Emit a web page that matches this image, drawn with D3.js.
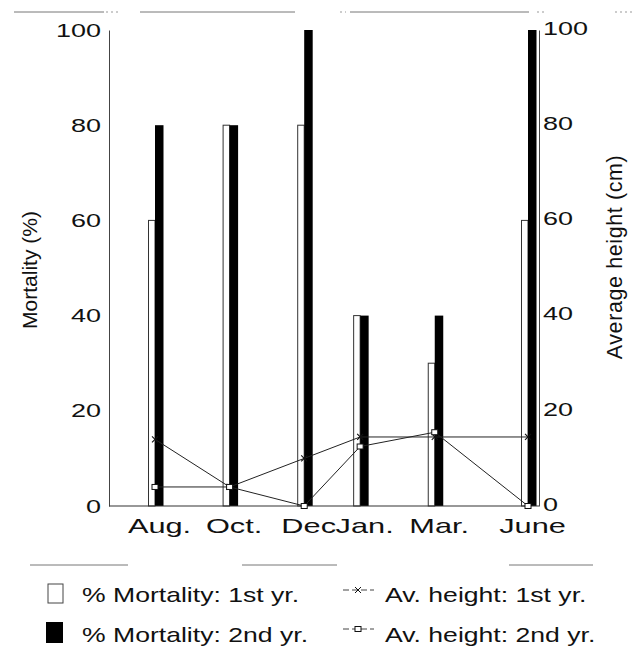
<!DOCTYPE html>
<html><head><meta charset="utf-8">
<script src="https://cdn.jsdelivr.net/npm/d3@7"></script>
<style>
body{margin:0;background:#fff}
svg{display:block}
text{font-family:"Liberation Sans",Arial,Helvetica,sans-serif;fill:#111}
</style>
</head><body>
<svg id="chart" width="638" height="655"></svg>
<script>
// ---- data ----
const months = ["Aug.", "Oct.", "Dec", "Jan.", "Mar.", "June"];
const monthPos = [0, 2, 4, 5.5, 7.5, 10];          // sampling time (months after Aug.)
const mortality1st = [60, 80, 80, 40, 30, 60];     // % mortality, 1st yr
const mortality2nd = [80, 80, 100, 40, 40, 100];   // % mortality, 2nd yr
const height1st = [14, 4, 10, 14.5, 14.5, 14.5];   // average height (cm), 1st yr
const height2nd = [4, 4, 0, 12.5, 15.5, 0];        // average height (cm), 2nd yr
const yTicks = [0, 20, 40, 60, 80, 100];
const legendLabels = ["% Mortality: 1st yr.", "% Mortality: 2nd yr.", "Av. height: 1st yr.", "Av. height: 2nd yr."];
const axisTitles = ["Mortality (%)", "Average height (cm)"];

(function () {
// ---- layout ----
const svg = d3.select("#chart");
const plotLeft = 109, plotRight = 539, plotBase = 506, plotTop = 30;
const x = d3.scaleLinear().domain([0, 10]).range([155, 528]);
const yL = d3.scaleLinear().domain([0, 100]).range([plotBase, plotTop]);
const yR = d3.scaleLinear().domain([0, 100]).range([plotBase, plotTop]);
const wideK = 1.42;

// scan artefact rules (page edges of the scanned figure)
const rules = [[12, 14, 104], [12, 140, 295], [12, 350, 529],
               [565, 30, 128], [565, 242, 337], [565, 509, 593]];
svg.append("g").selectAll("line").data(rules).join("line")
  .attr("x1", d => d[1]).attr("x2", d => d[2]).attr("y1", d => d[0]).attr("y2", d => d[0])
  .attr("stroke", "#777").attr("stroke-width", 1);
const dots = [[12, 106, 118], [12, 340, 346], [12, 537, 545], [12, 615, 635]];
svg.append("g").selectAll("line").data(dots).join("line")
  .attr("x1", d => d[1]).attr("x2", d => d[2]).attr("y1", d => d[0]).attr("y2", d => d[0])
  .attr("stroke", "#999").attr("stroke-width", 1).attr("stroke-dasharray", "2,3");

// bars
const idx = d3.range(months.length);
svg.append("g").selectAll("rect").data(idx).join("rect")
  .attr("x", i => x(monthPos[i]) - 6.5).attr("width", 6.5)
  .attr("y", i => yL(mortality1st[i])).attr("height", i => plotBase - yL(mortality1st[i]))
  .attr("fill", "#fff").attr("stroke", "#333").attr("stroke-width", 1);
svg.append("g").selectAll("rect").data(idx).join("rect")
  .attr("x", i => x(monthPos[i])).attr("width", 8.5)
  .attr("y", i => yL(mortality2nd[i])).attr("height", i => plotBase - yL(mortality2nd[i]))
  .attr("fill", "#000");

// axes
const gL = svg.append("g").attr("transform", `translate(${plotLeft},0)`)
  .call(d3.axisLeft(yL).tickValues(yTicks).tickSize(0).tickSizeOuter(0).tickPadding(0));
gL.selectAll(".tick text").attr("x", 0)
  .attr("transform", `translate(-8,0) scale(${wideK},1)`)
  .attr("font-size", 19).attr("font-family", null).attr("fill", "#111");
gL.select(".domain").attr("stroke", "#444");

const gR = svg.append("g").attr("transform", `translate(${plotRight},0)`)
  .call(d3.axisRight(yR).tickValues(yTicks).tickSize(0).tickSizeOuter(0).tickPadding(0));
gR.selectAll(".tick text").attr("x", 0).attr("dy", "0.28em")
  .attr("transform", `translate(4,-1) scale(${wideK},1)`)
  .attr("font-size", 19).attr("font-family", null).attr("fill", "#111");
gR.select(".domain").attr("stroke", "#444");

svg.append("line").attr("x1", plotLeft).attr("x2", plotRight).attr("y1", plotBase).attr("y2", plotBase)
  .attr("stroke", "#333").attr("stroke-width", 1.2);

const gX = svg.append("g").attr("transform", `translate(4,${plotBase})`)
  .call(d3.axisBottom(x).tickValues(monthPos).tickFormat((d, i) => months[i]).tickSize(0).tickPadding(0));
gX.select(".domain").remove();
gX.selectAll(".tick text").attr("y", 0).attr("dy", 0)
  .attr("transform", `translate(0,27) scale(1.5,1)`)
  .attr("font-size", 20.5).attr("font-family", null).attr("fill", "#111");

// axis titles
svg.append("text").attr("transform", "translate(37,270) rotate(-90)")
  .attr("text-anchor", "middle").attr("font-size", 21).text(axisTitles[0]);
svg.append("text").attr("transform", "translate(622,257) rotate(-90)")
  .attr("text-anchor", "middle").attr("font-size", 21.5).attr("letter-spacing", 0.6).text(axisTitles[1]);

// lines
const line1 = d3.line().x(i => x(monthPos[i])).y(i => yR(height1st[i]));
const line2 = d3.line().x(i => x(monthPos[i])).y(i => yR(height2nd[i]));
svg.append("path").attr("d", line1(idx)).attr("fill", "none").attr("stroke", "#222").attr("stroke-width", 1);
svg.append("path").attr("d", line2(idx)).attr("fill", "none").attr("stroke", "#222").attr("stroke-width", 1);
const crossPath = "M-3,-3L3,3M-3,3L3,-3";
svg.append("g").selectAll("path").data(idx).join("path")
  .attr("transform", i => `translate(${x(monthPos[i])},${yR(height1st[i])})`)
  .attr("d", crossPath).attr("stroke", "#111").attr("stroke-width", 1.1).attr("fill", "none");
svg.append("g").selectAll("rect").data(idx).join("rect")
  .attr("x", i => x(monthPos[i]) - 3).attr("y", i => yR(height2nd[i]) - 2.5)
  .attr("width", 6).attr("height", 5).attr("fill", "#fff").attr("stroke", "#111").attr("stroke-width", 1);

// legend
const lg = svg.append("g");
lg.append("rect").attr("x", 48).attr("y", 584).attr("width", 15).attr("height", 19)
  .attr("fill", "#fff").attr("stroke", "#444").attr("stroke-width", 1);
lg.append("rect").attr("x", 46).attr("y", 622).attr("width", 17).attr("height", 21).attr("fill", "#000");
const legText = [[82, 602, 0], [82, 642, 1], [385, 602, 2], [385, 642, 3]];
lg.selectAll("text").data(legText).join("text")
  .attr("transform", d => `translate(${d[0]},${d[1]}) scale(1.33,1)`)
  .attr("font-size", 20).text(d => legendLabels[d[2]]);
lg.append("line").attr("x1", 343).attr("x2", 374).attr("y1", 590).attr("y2", 590)
  .attr("stroke", "#444").attr("stroke-dasharray", "6,3");
lg.append("path").attr("transform", "translate(358,590)").attr("d", crossPath).attr("stroke", "#111").attr("fill", "none");
lg.append("line").attr("x1", 343).attr("x2", 374).attr("y1", 629).attr("y2", 629)
  .attr("stroke", "#444").attr("stroke-dasharray", "6,3");
lg.append("rect").attr("x", 355).attr("y", 626.5).attr("width", 6).attr("height", 5)
  .attr("fill", "#fff").attr("stroke", "#111");
})();
</script>
</body></html>
